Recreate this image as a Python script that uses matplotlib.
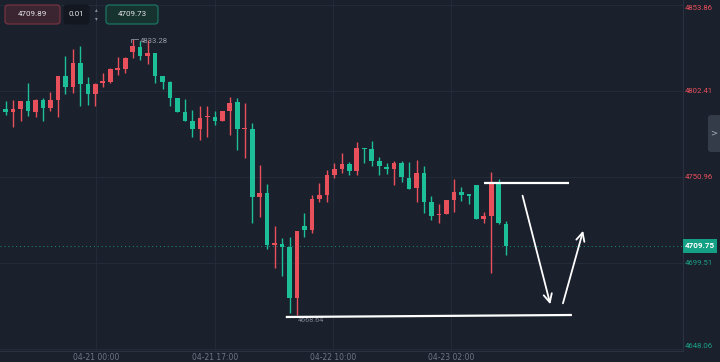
import matplotlib
matplotlib.use("Agg")
import matplotlib.pyplot as plt
from matplotlib.patches import FancyBboxPatch, Rectangle
import numpy as np

# candle data, oldest first
opens = [4791.6, 4789.9, 4791.6, 4796.4, 4789.9, 4797.0, 4792.2, 4797.0, 4811.4, 4804.8,
         4819.2, 4806.6, 4800.6, 4807.2, 4807.8, 4815.0, 4815.6, 4825.8, 4828.7, 4823.4,
         4825.2, 4811.4, 4807.8, 4798.2, 4789.9, 4784.5, 4779.7, 4786.6, 4786.9, 4784.5,
         4790.5, 4795.8, 4779.4, 4779.7, 4739.0, 4741.4, 4710.3, 4710.9, 4709.1, 4678.6,
         4721.7, 4719.3, 4737.8, 4740.2, 4752.2, 4755.8, 4758.7, 4754.6, 4768.3, 4767.7,
         4760.5, 4756.9, 4755.8, 4759.3, 4750.4, 4744.4, 4753.4, 4736.0, 4728.2, 4728.8,
         4737.2, 4742.0, 4740.2, 4746.2, 4725.8, 4727.6, 4748.0, 4722.9]
highs = [4796.4, 4797.0, 4796.4, 4807.2, 4797.6, 4798.2, 4801.8, 4811.4, 4823.4, 4827.6,
         4829.4, 4810.8, 4807.2, 4813.2, 4816.2, 4822.8, 4822.8, 4833.28, 4832.5, 4833.0,
         4825.2, 4811.4, 4808.4, 4798.2, 4797.6, 4791.1, 4793.5, 4793.5, 4790.5, 4790.5,
         4798.8, 4798.2, 4795.3, 4783.3, 4758.2, 4746.8, 4721.7, 4714.5, 4715.1, 4718.7,
         4729.4, 4740.2, 4747.4, 4755.2, 4759.3, 4765.3, 4759.9, 4771.9, 4768.3, 4772.5,
         4763.0, 4759.3, 4760.5, 4760.5, 4759.9, 4761.1, 4757.5, 4739.6, 4734.8, 4737.2,
         4749.8, 4745.0, 4740.2, 4746.2, 4730.0, 4754.0, 4749.8, 4724.6]
lows = [4788.1, 4780.9, 4784.5, 4787.5, 4786.9, 4784.5, 4790.5, 4786.9, 4800.6, 4801.2,
        4793.5, 4794.1, 4793.5, 4804.8, 4807.2, 4812.0, 4813.2, 4822.2, 4821.0, 4818.6,
        4807.2, 4803.6, 4793.5, 4789.9, 4784.5, 4775.0, 4773.1, 4775.0, 4782.1, 4784.5,
        4776.2, 4767.2, 4762.4, 4723.5, 4727.1, 4707.9, 4696.6, 4691.8, 4669.5, 4668.64,
        4715.1, 4717.4, 4736.0, 4736.0, 4750.4, 4753.4, 4752.2, 4752.2, 4759.3, 4757.5,
        4752.2, 4752.8, 4746.2, 4748.0, 4743.8, 4736.0, 4729.4, 4725.2, 4723.5, 4728.8,
        4730.0, 4736.6, 4734.8, 4725.8, 4723.5, 4693.5, 4722.9, 4704.3]
closes = [4789.9, 4791.6, 4796.4, 4790.5, 4797.0, 4792.2, 4797.0, 4811.4, 4804.8, 4819.2,
          4806.6, 4800.6, 4806.6, 4807.8, 4815.6, 4815.6, 4822.2, 4829.3, 4823.4, 4825.2,
          4811.4, 4807.8, 4798.2, 4789.9, 4784.5, 4779.7, 4786.3, 4786.9, 4784.5, 4790.5,
          4795.3, 4779.7, 4779.7, 4739.0, 4741.4, 4710.3, 4710.9, 4709.1, 4678.6, 4718.7,
          4719.3, 4737.8, 4740.2, 4752.2, 4755.8, 4758.7, 4754.6, 4768.3, 4767.7, 4760.5,
          4757.5, 4755.8, 4759.3, 4751.0, 4743.8, 4753.4, 4736.0, 4727.6, 4728.8, 4737.2,
          4742.0, 4740.2, 4739.6, 4725.8, 4727.6, 4748.0, 4723.5, 4709.75]

price_ticks = [4853.86, 4802.41, 4750.96, 4699.51, 4648.06]
time_ticks = [12.05, 28.0, 43.8, 59.6]
time_labels = ["04-21 00:00", "04-21 17:00", "04-22 10:00", "04-23 02:00"]
last_price = 4709.75
high_mark = (17, 4833.28)
low_mark = (39, 4668.64)
bid, step, ask = "4709.89", "0.01", "4709.73"

# hand drawn annotations, in (candle index, price)
top_line = ([64.0, 75.4], [4747.4, 4747.4])
bottom_line = ([37.5, 75.8], [4667.2, 4668.4])
arrow_down = ((69.1, 4741.4), (73.0, 4673.2))
arrow_up = ((74.5, 4673.8), (77.4, 4720.4))

BG = "#1a202c"
GRID = "#232b38"
UP = "#e8505b"
DOWN = "#1dbf98"
W, H = 720, 362

fig = plt.figure(figsize=(7.2, 3.62), dpi=100, facecolor=BG)
ax = fig.add_axes([0, 11 / H, 683 / W, 351 / H])
ax.set_facecolor(BG)

x = np.arange(len(opens))
o = np.array(opens); c = np.array(closes)
up = c >= o
cols = np.where(up, UP, DOWN)
bottoms = np.minimum(o, c)
heights = np.maximum(np.abs(c - o), 0.9)
ax.vlines(x, lows, highs, colors=cols, lw=1, zorder=3)
ax.bar(x, heights, bottom=bottoms, width=0.62, color=cols, zorder=4)

ax.set_xlim(-0.76, 90.67)
ax.set_ylim(4646.86, 4856.86)
for p in price_ticks:
    ax.axhline(p, color=GRID, lw=0.8, zorder=1)
for t in time_ticks:
    ax.axvline(t, color=GRID, lw=0.8, zorder=1)
ax.axhline(last_price, color=DOWN, lw=0.8, ls=(0, (1, 2.5)), alpha=0.6, zorder=2)

ax.set_xticks(time_ticks)
ax.set_xticklabels(time_labels)
ax.tick_params(axis="x", length=0, pad=1.2, labelsize=5.5, labelcolor="#6f7684")
ax.set_yticks([])
for s in ["top", "left"]:
    ax.spines[s].set_visible(False)
for s in ["right", "bottom"]:
    ax.spines[s].set_color("#2a3240")
    ax.spines[s].set_linewidth(0.8)

# high / low markers
hx, hy = high_mark
ax.plot([hx - 0.2, hx - 0.2, hx + 0.7], [hy - 1.8, hy + 0.3, hy + 0.3], color="#8a909c", lw=0.6, zorder=5)
ax.text(hx + 0.9, hy - 0.9, f"{hy:.2f}", color="#9aa0aa", fontsize=5.6, va="center", ha="left", family="Roboto")
lx, ly = low_mark
ax.text(lx + 0.1, ly - 3.5, f"{ly:.2f}", color="#7b818c", fontsize=5.2, va="center", ha="left", family="Roboto")

# annotations
ax.plot(*top_line, color="white", lw=1.6, zorder=6, solid_capstyle="butt")
ax.plot(*bottom_line, color="white", lw=1.6, zorder=6, solid_capstyle="butt")
for a in (arrow_down, arrow_up):
    ax.annotate("", xy=a[1], xytext=a[0],
                arrowprops=dict(arrowstyle="->,head_length=0.6,head_width=0.3", color="white", lw=1.3),
                zorder=6)

# right price scale labels
def ypix(p):
    lo, hi = ax.get_ylim()
    return (hi - p) / (hi - lo) * 351

for p in price_ticks:
    yp = min(max(ypix(p), 8), 346)
    col = UP if p > last_price else "#1c9e85"
    fig.text(685 / W, 1 - yp / H, f"{p:.2f}", color=col, fontsize=5.6, va="center", ha="left", family="Roboto")

yl = ypix(last_price)
fig.patches.append(Rectangle((683 / W, 1 - (yl + 7) / H), 34 / W, 14 / H, transform=fig.transFigure,
                             facecolor="#13a084", edgecolor="none"))
fig.text(700 / W, 1 - yl / H, f"{last_price:.2f}", color="white", fontsize=5.8, va="center", ha="center",
         family="Roboto", weight="bold")

# collapse tab on the right
fig.patches.append(FancyBboxPatch((7.08, (H - 152) / 100), 0.14, 0.37, boxstyle="round,pad=0,rounding_size=0.03",
                                  transform=fig.dpi_scale_trans, facecolor="#353c49", edgecolor="none"))
fig.text(714 / W, 1 - 133 / H, ">", color="#aab0ba", fontsize=6, va="center", ha="center")

# top left order widgets
def box(x0, y0, w, h, fc, ec):
    fig.patches.append(FancyBboxPatch((x0 / 100, (H - y0 - h) / 100), w / 100, h / 100,
                                      boxstyle="round,pad=0,rounding_size=0.03",
                                      transform=fig.dpi_scale_trans, facecolor=fc, edgecolor=ec, lw=0.8))

box(5, 5, 55, 19, "#3a2530", "#7e3543")
box(64, 5, 25, 19, "#131820", "#131820")
box(106, 5, 52, 19, "#16332f", "#1c7e6b")
fig.text(32.5 / W, 1 - 14.5 / H, bid, color="#e4e4e4", fontsize=5.8, va="center", ha="center", family="Roboto")
fig.text(76.5 / W, 1 - 14.5 / H, step, color="#e4e4e4", fontsize=5.8, va="center", ha="center", family="Roboto")
fig.text(96 / W, 1 - 10 / H, "▴", color="#8a909a", fontsize=4, va="center", ha="center")
fig.text(96 / W, 1 - 19 / H, "▾", color="#8a909a", fontsize=4, va="center", ha="center")
fig.text(132 / W, 1 - 14.5 / H, ask, color="#e4e4e4", fontsize=5.8, va="center", ha="center", family="Roboto")

fig.savefig("out.png", dpi=100, facecolor=BG)
